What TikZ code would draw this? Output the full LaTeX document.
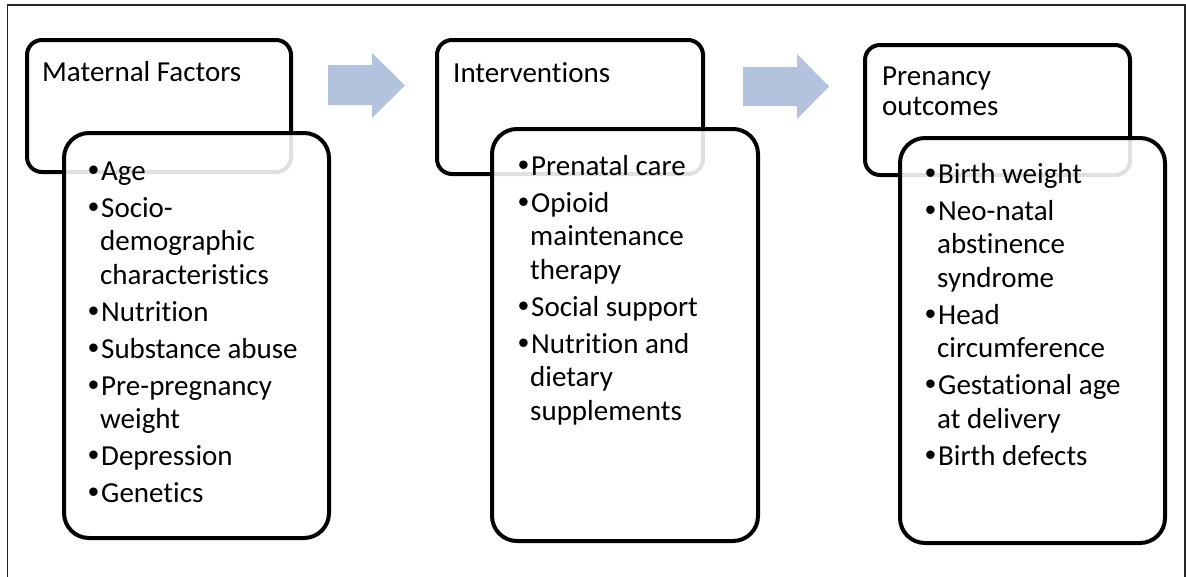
\documentclass[tikz,border=0pt]{standalone}
\usepackage{fontspec}
\setmainfont{Carlito}[Ligatures=NoCommon]
\newfontfamily\bulletfont{Liberation Sans}
\definecolor{arrowblue}{RGB}{179,195,222}
\newcommand\bul{\makebox[13pt][l]{\bulletfont\fontsize{31}{33.5}\selectfont •}}
\newcommand\ind{\hspace*{12pt}}
\tikzset{
  headbox/.style={draw=black, line width=4pt, rounded corners=15pt, fill=white, inner sep=0pt},
  listbox/.style={draw=black, line width=4pt, rounded corners=25pt, fill=white, fill opacity=0.88, draw opacity=1, inner sep=0pt},
  headtext/.style={anchor=base west, inner sep=0pt, font=\fontsize{29}{30}\selectfont},
  listtext/.style={anchor=base west, inner sep=0pt, font=\fontsize{29}{33.5}\selectfont},
  blockarrow/.style={fill=arrowblue}
}
\begin{document}
\begin{tikzpicture}[x=1pt,y=-1pt]
\useasboundingbox (0,0) rectangle (1186,576);
\fill[white] (0,0) rectangle (1186,576);
% frame
\draw[line width=1.5pt, black!85] (7.5,590) -- (7.5,5) -- (1185,5) -- (1185,590);
% group 1
\node[headbox, minimum width=264pt, minimum height=132pt] (h1) at (159,106) {};
\node[listbox, minimum width=265pt, minimum height=405pt] (l1) at (196.5,335.5) {};
\node[headtext] (t1) at (42,81) {Maternal Factors};
\node[listtext] (b1) at (88,180) {\parbox[t]{240pt}{\raggedright
\bul Age\\[3.5pt]
\bul Socio-\\
\ind demographic\\
\ind characteristics\\[3.5pt]
\bul Nutrition\\[3.5pt]
\bul Substance abuse\\[3.5pt]
\bul Pre-pregnancy\\
\ind weight\\[3.5pt]
\bul Depression\\[3.5pt]
\bul Genetics}};
% arrow 1
\fill[blockarrow] (328,65) -- (372,65) -- (372,53) -- (405,85.5) -- (372,118) -- (372,105) -- (328,105) -- cycle;
% group 2
\node[headbox, minimum width=266pt, minimum height=134pt] (h2) at (570,107) {};
\node[listbox, minimum width=266pt, minimum height=412pt] (l2) at (625,335) {};
\node[headtext] (t2) at (453,82) {Interventions};
\node[listtext] (b2) at (518,175) {\parbox[t]{240pt}{\raggedright
\bul Prenatal care\\[3.5pt]
\bul Opioid\\
\ind maintenance\\
\ind therapy\\[3.5pt]
\bul Social support\\[3.5pt]
\bul Nutrition and\\
\ind dietary\\
\ind supplements}};
% arrow 2
\fill[blockarrow] (743,67) -- (797,67) -- (797,54) -- (829,86.5) -- (797,119) -- (797,106) -- (743,106) -- cycle;
% group 3
\node[headbox, minimum width=265pt, minimum height=130pt] (h3) at (997.5,110) {};
\node[listbox, minimum width=265pt, minimum height=405pt] (l3) at (1032.5,340.5) {};
\node[headtext] (t3) at (882,85) {\parbox[t]{240pt}{\raggedright Prenancy\\outcomes}};
\node[listtext] (b3) at (925,183) {\parbox[t]{240pt}{\raggedright
\bul Birth weight\\[3.5pt]
\bul Neo-natal\\
\ind abstinence\\
\ind syndrome\\[3.5pt]
\bul Head\\
\ind circumference\\[3.5pt]
\bul Gestational age\\
\ind at delivery\\[3.5pt]
\bul Birth defects}};
\end{tikzpicture}
\end{document}
